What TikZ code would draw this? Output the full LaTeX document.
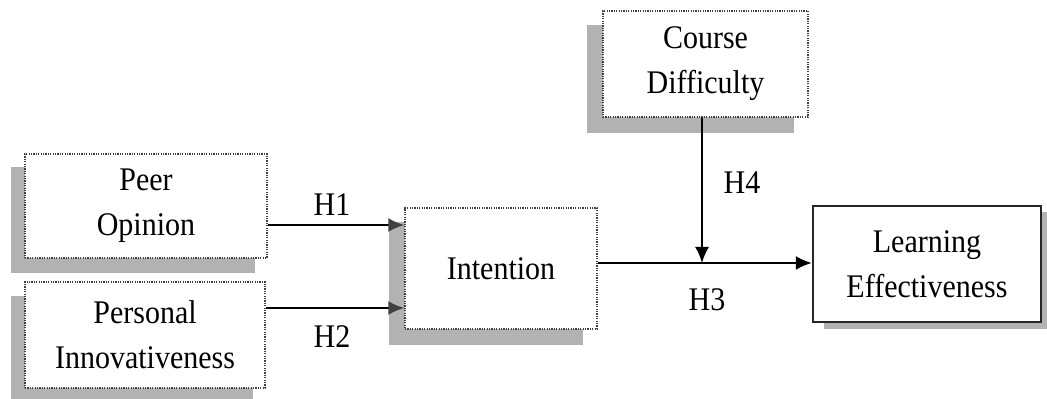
\documentclass[tikz,border=0pt]{standalone}
\usepackage{fontspec}
\setmainfont{Liberation Serif}
\usetikzlibrary{arrows.meta,backgrounds,calc}
\newcommand{\tallt}[1]{\scalebox{1}[1.1]{#1}}
\begin{document}
\begin{tikzpicture}[x=0.5pt,y=-0.5pt,
  box/.style={draw=black!75, line width=0.75pt, dash pattern=on 0.6pt off 0.6pt,
    fill=white, align=center, inner sep=0pt,
    font=\fontsize{15pt}{22.5pt}\selectfont},
  solidbox/.style={draw=black!85, line width=1.2pt, fill=white, align=center, inner sep=0pt,
    font=\fontsize{15pt}{22.5pt}\selectfont},
  shadowfill/.style={fill=black!30},
  arr/.style={draw=black, line width=1pt, -{Latex[length=8pt,width=7pt]}},
  grayarr/.style={draw=black, line width=1pt, -{Latex[length=8pt,width=7pt,color=black!75]}},
  lab/.style={font=\fontsize{15pt}{18pt}\selectfont, inner sep=0pt}]
\useasboundingbox (0,0) rectangle (1047,399);

\node[box, minimum width=121pt, minimum height=52pt] (peer) at (146,206) {\tallt{Peer}\\\tallt{Opinion}};
\node[box, minimum width=120pt, minimum height=53pt] (pers) at (145,335) {\tallt{Personal}\\\tallt{Innovativeness}};
\node[box, minimum width=96pt, minimum height=60.5pt] (intent) at (501,268.5) {\tallt{Intention}};
\node[box, minimum width=102.5pt, minimum height=53pt] (course) at (705.5,64) {\tallt{Course}\\\tallt{Difficulty}};
\node[solidbox, minimum width=114pt, minimum height=58pt] (learn) at (927,264) {\tallt{Learning}\\\tallt{Effectiveness}};

\begin{scope}[on background layer]
  \fill[shadowfill] ([shift={(-13,14)}]peer.north west) rectangle ([shift={(-13,14)}]peer.south east);
  \fill[shadowfill] ([shift={(-13,15)}]pers.north west) rectangle ([shift={(-13,15)}]pers.south east);
  \fill[shadowfill] ([shift={(-15,15)}]intent.north west) rectangle ([shift={(-15,15)}]intent.south east);
  \fill[shadowfill] ([shift={(-15,15)}]course.north west) rectangle ([shift={(-15,15)}]course.south east);
  \fill[shadowfill] ([shift={(12,7)}]learn.north west) rectangle (1047,329);
\end{scope}

\coordinate (j) at (702,263);
\draw[grayarr] (peer.east |- 0,225) -- (intent.west |- 0,225);
\draw[grayarr] (pers.east |- 0,308) -- (intent.west |- 0,308);
\draw[arr] (intent.east |- j) -- (learn.west |- j);
\draw[arr] (course.south -| j) -- (j);

\node[lab] (h1) at (332,205) {\tallt{H1}};
\node[lab] (h2) at (332,337) {\tallt{H2}};
\node[lab] (h3) at (707,300) {\tallt{H3}};
\node[lab] (h4) at (742,183) {\tallt{H4}};
\end{tikzpicture}
\end{document}
